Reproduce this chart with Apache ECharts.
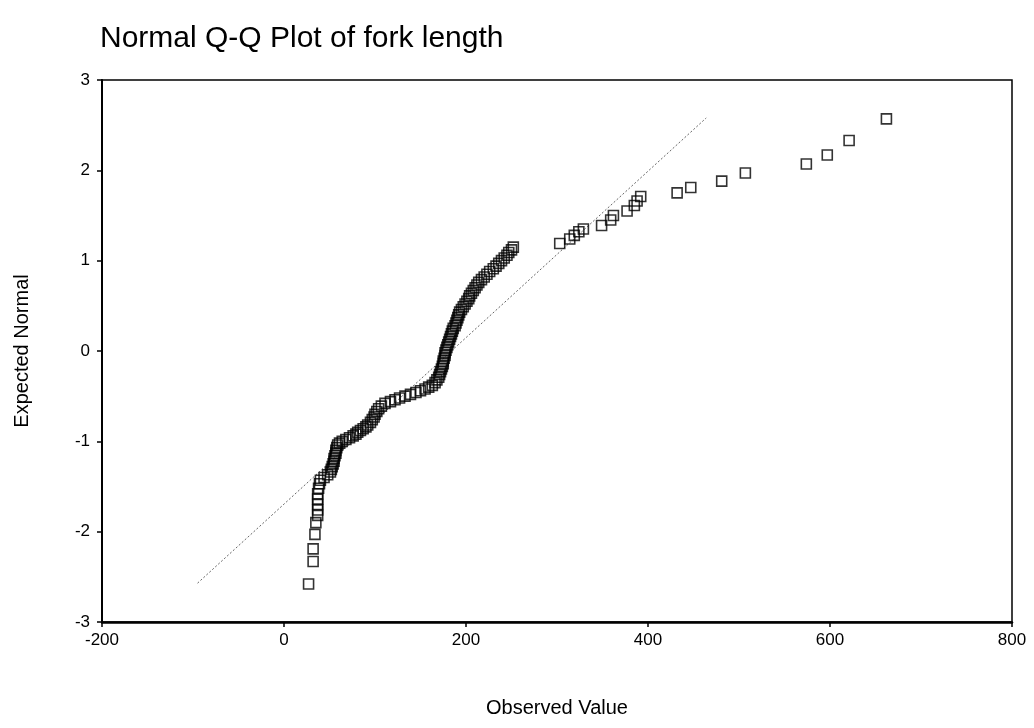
<!DOCTYPE html>
<html>
<head>
<meta charset="utf-8">
<script src="https://cdn.jsdelivr.net/npm/echarts@6/dist/echarts.min.js"></script>
<style>
html,body{margin:0;padding:0;background:#fff;}
#chart{width:1034px;height:728px;}
</style>
</head>
<body>
<div id="chart"></div>
<script>
var observed = [
  27, 32, 32, 34, 35, 37, 37, 37, 37, 37, 38, 39,
  40, 44, 48, 51, 52, 53, 54, 55, 55, 56, 57, 57, 58, 59, 61, 64, 68, 72, 76, 79,
  81, 84, 87, 90, 92, 95, 97, 99, 100, 102, 104, 107, 111, 117, 122, 127, 133, 139,
  145, 150, 155, 159, 163, 166, 168, 170, 171, 172, 173, 174, 175, 175, 176, 177,
  177, 178, 179, 180, 181, 182, 183, 184, 185, 186, 188, 189, 190, 191, 192, 193,
  195, 197, 199, 201, 203, 204, 206, 208, 210, 212, 214, 217, 220, 223, 226, 230,
  233, 236, 239, 242, 245, 247, 250, 252,
  303, 314, 319, 324, 329, 349, 359, 362, 377, 385, 388, 392,
  432, 447, 481, 507, 574, 597, 621, 662
];
var expected = [
  -2.58, -2.33, -2.19, -2.03, -1.90, -1.82, -1.76, -1.70, -1.64, -1.58, -1.52, -1.47,
  -1.43, -1.40, -1.37, -1.34, -1.31, -1.28, -1.25, -1.22, -1.19, -1.16, -1.13, -1.10, -1.07, -1.04, -1.02, -1.00, -0.98, -0.96, -0.94, -0.92,
  -0.90, -0.88, -0.86, -0.84, -0.82, -0.79, -0.76, -0.73, -0.70, -0.67, -0.64, -0.61, -0.58, -0.56, -0.54, -0.52, -0.50, -0.48,
  -0.46, -0.44, -0.42, -0.40, -0.38, -0.35, -0.32, -0.29, -0.26, -0.23, -0.20, -0.17, -0.14, -0.11, -0.08, -0.05,
  -0.02, 0.01, 0.04, 0.07, 0.10, 0.13, 0.16, 0.19, 0.22, 0.25, 0.28, 0.31, 0.34, 0.37, 0.40, 0.43,
  0.46, 0.49, 0.52, 0.55, 0.58, 0.61, 0.64, 0.67, 0.70, 0.73, 0.76, 0.79, 0.82, 0.85, 0.88, 0.91,
  0.94, 0.97, 1.00, 1.03, 1.06, 1.09, 1.12, 1.15,
  1.19, 1.24, 1.28, 1.32, 1.35, 1.39, 1.45, 1.50, 1.55, 1.61, 1.66, 1.71,
  1.75, 1.81, 1.88, 1.97, 2.07, 2.17, 2.33, 2.57
];
// Reference line end points
var refLineX = [-95, 464];
var refLineY = [-2.57, 2.58];
// Axis ranges / ticks
var xTicks = [-200, 0, 200, 400, 600, 800];
var yTicks = [-3, -2, -1, 0, 1, 2, 3];

var font = "'Liberation Sans', Arial, sans-serif";
var points = observed.map(function (v, i) { return [v, expected[i]]; });
var linePts = refLineX.map(function (v, i) { return [v, refLineY[i]]; });

var chart = echarts.init(document.getElementById('chart'), null, {renderer: 'canvas'});
chart.setOption({
  backgroundColor: '#fff',
  animation: false,
  title: {
    text: 'Normal Q-Q Plot of fork length',
    left: 95, top: 19,
    textStyle: {fontFamily: font, fontSize: 30, fontWeight: 'normal', color: '#000'}
  },
  grid: {
    left: 102, right: 22, top: 80, bottom: 106,
    show: true, borderColor: '#000', borderWidth: 1.5, backgroundColor: '#fff'
  },
  xAxis: {
    type: 'value',
    min: xTicks[0], max: xTicks[xTicks.length - 1], interval: 200,
    name: 'Observed Value', nameLocation: 'middle', nameGap: 76,
    nameTextStyle: {fontFamily: font, fontSize: 20, color: '#000'},
    axisLine: {show: true, onZero: false, lineStyle: {color: '#000', width: 2.5}},
    axisTick: {show: true, length: 5, lineStyle: {color: '#000', width: 1.5}},
    axisLabel: {fontFamily: font, fontSize: 17, color: '#000', margin: 10},
    splitLine: {show: false}
  },
  yAxis: {
    type: 'value',
    min: yTicks[0], max: yTicks[yTicks.length - 1], interval: 1,
    name: 'Expected Normal', nameLocation: 'middle', nameGap: 70, nameRotate: 90,
    nameTextStyle: {fontFamily: font, fontSize: 20, color: '#000'},
    axisLine: {show: true, onZero: false, lineStyle: {color: '#000', width: 2}},
    axisTick: {show: true, length: 5, lineStyle: {color: '#000', width: 1.5}},
    axisLabel: {fontFamily: font, fontSize: 17, color: '#000', margin: 12},
    splitLine: {show: false}
  },
  series: [
    {
      type: 'line',
      data: linePts,
      showSymbol: false,
      silent: true,
      z: 1,
      lineStyle: {color: '#666', width: 1, type: [2, 2]}
    },
    {
      type: 'scatter',
      data: points,
      symbol: 'rect',
      symbolSize: 10,
      z: 2,
      itemStyle: {color: 'rgba(0,0,0,0)', borderColor: '#000', borderWidth: 1.6}
    }
  ]
});
</script>
</body>
</html>
